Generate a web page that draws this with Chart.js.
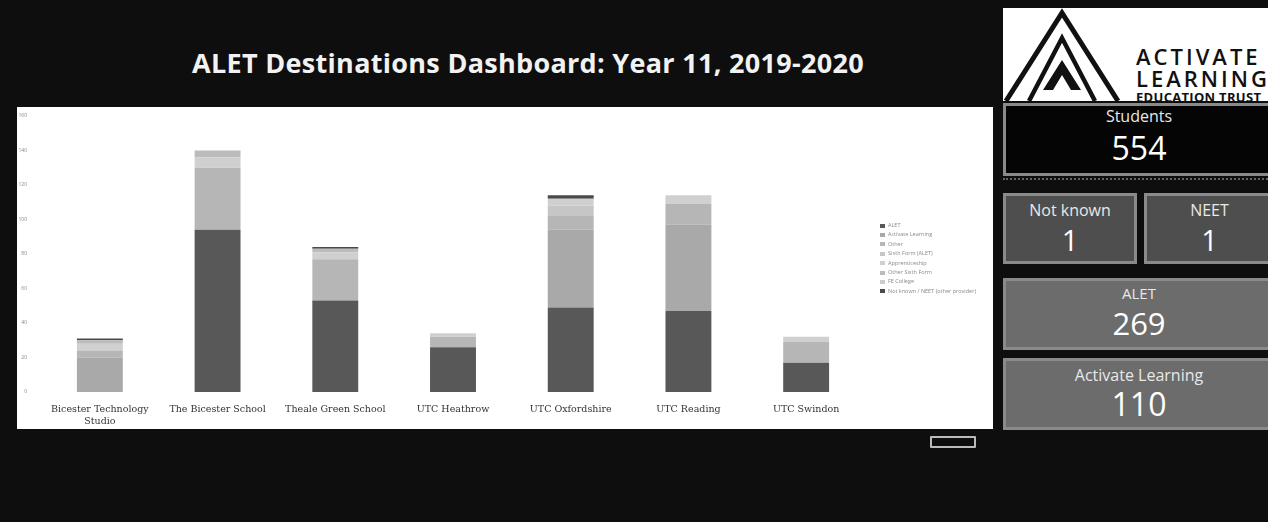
<!DOCTYPE html>
<html>
<head>
<meta charset="utf-8">
<script src="https://cdn.jsdelivr.net/npm/chart.js@4.4.1/dist/chart.umd.min.js"></script>
<style>
  html,body{margin:0;padding:0;}
  body{width:1268px;height:522px;background:#0e0e0e;position:relative;overflow:hidden;font-family:"Open Sans",sans-serif;}
  #title{position:absolute;left:0;top:45px;width:1056px;text-align:center;color:#f2f2f2;font-weight:700;font-size:27px;line-height:36px;letter-spacing:0.3px;}
  #panel{position:absolute;left:17px;top:107px;width:976px;height:322px;background:#fff;}
  #legend{position:absolute;left:880px;top:221px;font-size:5.5px;color:#8a8a8a;line-height:9.4px;white-space:nowrap;}
  #legend span.sw{display:inline-block;width:5px;height:4px;margin-right:3px;vertical-align:middle;}
  #logo{position:absolute;left:1003px;top:8px;width:265px;height:93px;background:#fff;overflow:hidden;}
  .card{position:absolute;box-sizing:border-box;border:3px solid #8a8a8a;color:#fff;text-align:center;}
  .card .lbl{font-size:16px;line-height:18px;margin-top:7px;color:#e8e8e8;}
  .card .val{font-size:31px;line-height:34px;margin-top:3px;font-weight:400;}
  #mini{position:absolute;left:930px;top:436px;width:42px;height:8px;border:2px solid #bbb;border-radius:1px;}
</style>
</head>
<body>
<div id="title">ALET Destinations Dashboard: Year 11, 2019-2020</div>
<div id="panel"><canvas id="c" width="976" height="322"></canvas></div>
<div id="legend"></div>

<div id="logo">
  <svg width="265" height="93" viewBox="0 0 265 93">
    <path d="M3 93 L59 5 L115 93" fill="none" stroke="#111" stroke-width="5"/>
    <path d="M26 93 L59 30 L92 93" fill="none" stroke="#111" stroke-width="4.5"/>
    <path d="M40 82 L59 52 L78 82 L68 82 L59 67 L50 82 Z" fill="#111"/>
    <text x="133" y="57" font-family="Open Sans, sans-serif" font-size="22" font-weight="600" fill="#111" letter-spacing="3">ACTIVATE</text>
    <text x="133" y="79" font-family="Open Sans, sans-serif" font-size="22" font-weight="600" fill="#111" letter-spacing="3">LEARNING</text>
    <text x="133" y="94" font-family="Open Sans, sans-serif" font-size="13" font-weight="700" fill="#111" letter-spacing="0.3">EDUCATION TRUST</text>
  </svg>
</div>

<div class="card" style="left:1003px;top:103px;width:272px;height:73px;background:#050505;">
  <div class="lbl" style="margin-top:1px;">Students</div><div class="val" style="font-size:32px;margin-top:6px;">554</div>
</div>
<div style="position:absolute;left:1003px;top:178px;width:265px;height:2px;border-top:2px dotted #666;"></div>
<div class="card" style="left:1003px;top:193px;width:134px;height:71px;background:#4e4e4e;">
  <div class="lbl" style="margin-top:5px;">Not known</div><div class="val" style="font-size:29px;margin-top:4px;">1</div>
</div>
<div class="card" style="left:1144px;top:193px;width:131px;height:71px;background:#4e4e4e;">
  <div class="lbl" style="margin-top:5px;">NEET</div><div class="val" style="font-size:29px;margin-top:4px;">1</div>
</div>
<div class="card" style="left:1003px;top:278px;width:272px;height:72px;background:#6c6c6c;">
  <div class="lbl" style="font-size:15px;margin-top:3px;">ALET</div><div class="val" style="margin-top:4px;">269</div>
</div>
<div class="card" style="left:1003px;top:358px;width:272px;height:72px;background:#6c6c6c;">
  <div class="lbl" style="margin-top:5px;">Activate Learning</div><div class="val" style="font-size:32px;margin-top:3px;">110</div>
</div>
<div id="mini"></div>

<script>
const categories = ["Bicester Technology Studio","The Bicester School","Theale Green School","UTC Heathrow","UTC Oxfordshire","UTC Reading","UTC Swindon"];
const tickLabels = [["Bicester Technology","Studio"],"The Bicester School","Theale Green School","UTC Heathrow","UTC Oxfordshire","UTC Reading","UTC Swindon"];
const yTicks = [0,20,40,60,80,100,120,140,160];

const seriesNames = ["ALET","Activate Learning","Other","Sixth Form (ALET)","Apprenticeship","Other Sixth Form","FE College","Not known / NEET (other provider)"];
const alet            = [0, 94, 53, 26, 49, 47, 17];
const activateLearning= [20, 0, 0, 0, 45, 50, 0];
const other           = [4, 36, 24, 6, 8, 12, 12];
const sixthFormAlet   = [0, 0, 0, 0, 6, 0, 0];
const apprenticeship  = [4, 6, 4, 2, 4, 5, 3];
const otherSixthForm  = [2, 4, 2, 0, 0, 0, 0];
const feCollege       = [0, 0, 0, 0, 0, 0, 0];
const notKnown        = [1, 0, 1, 0, 2, 0, 0];

const seriesData = [alet, activateLearning, other, sixthFormAlet, apprenticeship, otherSixthForm, feCollege, notKnown];
const seriesColors = ["#585858","#a9a9a9","#b6b6b6","#c6c6c6","#d0d0d0","#bcbcbc","#cccccc","#4a4a4a"];

const chart = new Chart(document.getElementById('c'), {
  type: 'bar',
  data: {
    labels: tickLabels,
    datasets: seriesNames.map((n,i)=>({
      label: n, data: seriesData[i], backgroundColor: seriesColors[i],
      barPercentage: 0.78, categoryPercentage: 0.5, borderWidth: 0
    }))
  },
  options: {
    responsive: false, animation: false,
    layout: { padding: { top: 4, right: 128, left: 0, bottom: 0 } },
    plugins: { tooltip: { enabled: false }, legend: { display: false } },
    scales: {
      x: {
        stacked: true,
        grid: { display: false }, border: { display: false },
        ticks: { font: { size: 9.5, family: 'DejaVu Serif' }, color: '#333', maxRotation: 0, autoSkip: false, padding: 4 },
        afterFit: s => { s.height = 37; }
      },
      y: {
        stacked: true, min: 0, max: 160,
        afterBuildTicks: s => { s.ticks = yTicks.map(v=>({value:v})); },
        grid: { display: false }, border: { display: false },
        ticks: { font: { size: 5, family: 'Open Sans' }, color: '#888', padding: 6 },
        afterFit: s => { s.width = 24; }
      }
    }
  }
});

// legend built from the chart's own datasets
const lg = document.getElementById('legend');
chart.data.datasets.forEach(ds => {
  const row = document.createElement('div');
  const sw = document.createElement('span'); sw.className = 'sw'; sw.style.background = ds.backgroundColor;
  row.appendChild(sw); row.appendChild(document.createTextNode(ds.label));
  lg.appendChild(row);
});
</script>
</body>
</html>
